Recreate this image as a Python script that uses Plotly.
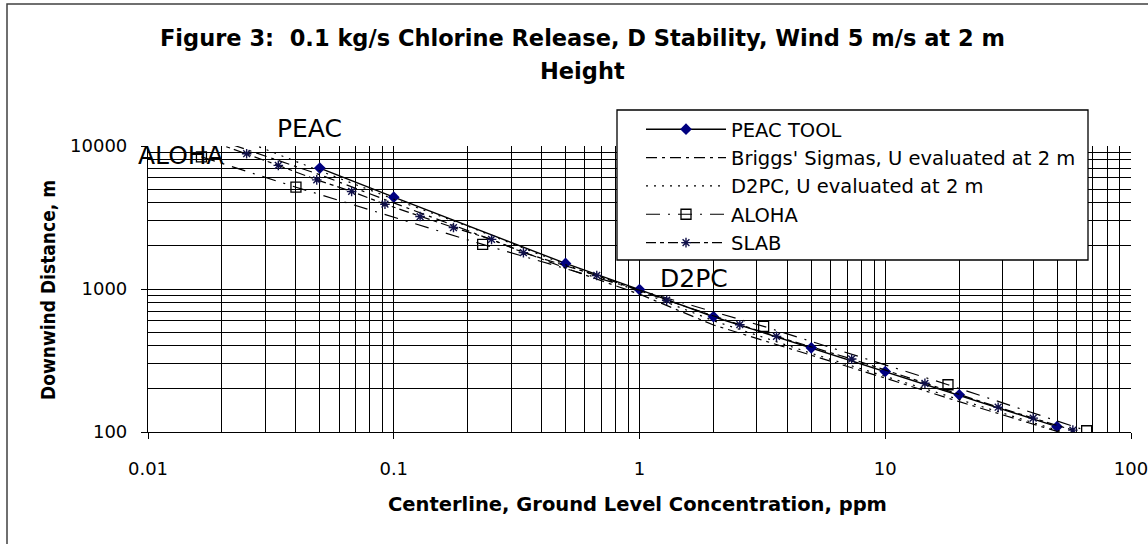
import plotly.graph_objects as go

# ---------------- data ----------------
peac_conc = [0.05, 0.1, 0.5, 1, 2, 5, 10, 20, 50]
peac_dist = [7010, 4390, 1510, 990, 640, 388, 265, 182, 109]

briggs_conc = [0.018, 0.05, 0.1, 0.2, 0.5, 1, 2, 5, 10, 20, 50, 80]
briggs_dist = [11500, 6300, 4000, 2560, 1400, 920, 560, 345, 238, 163, 100, 79]

d2pc_conc = [0.02, 0.05, 0.1, 0.2, 0.5, 1, 2, 5, 10, 20, 50, 70]
d2pc_dist = [12500, 6700, 4250, 2750, 1480, 960, 600, 355, 245, 168, 103, 86]

aloha_conc = [0.0165, 0.04, 0.23, 3.2, 18, 66]
aloha_dist = [8400, 5150, 2050, 548, 214, 102]

slab_conc = [0.0184, 0.0252, 0.0339, 0.0486, 0.0674, 0.0921, 0.128, 0.175,
             0.25, 0.337, 0.67, 1.29, 2.56, 3.61, 7.3, 14.5, 28.8, 40, 58]
slab_dist = [10670, 8830, 7320, 5800, 4810, 3918, 3211, 2689,
             2225, 1795, 1244, 835, 563, 466, 324, 219, 149, 125, 103]

x_tickvals = [0.01, 0.1, 1, 10, 100]
x_ticktext = ["0.01", "0.1", "1", "10", "100"]
y_tickvals = [100, 1000, 10000]
y_ticktext = ["100", "1000", "10000"]

title_line1 = "Figure 3:&nbsp; 0.1 kg/s Chlorine Release, D Stability, Wind 5 m/s at 2 m"
title_line2 = "Height"
x_title = "Centerline, Ground Level Concentration, ppm"
y_title = "Downwind Distance, m"

# series name labels drawn on the chart
label_texts = ["PEAC", "ALOHA", "D2PC"]

# ---------------- figure ----------------
W, H = 1148, 544
L, R, T, B = 148, 17, 146, 112
pw, ph = W - L - R, H - T - B


def px_x(px):
    return (px - L) / pw


def px_y(py):
    return (H - B - py) / ph


label_pos_px = [(309, 128), (181, 155), (694, 278)]

TXT = "DejaVu Sans"
BOLD = "DejaVu Sans"
BOLDC = "DejaVu Sans Condensed"

fig = go.Figure()
fig.add_trace(go.Scatter(
    x=peac_conc, y=peac_dist, name="PEAC TOOL", mode="lines+markers",
    line=dict(color="black", width=1.4),
    marker=dict(symbol="diamond", size=9, color="#000080", line=dict(width=0)),
    legendgroup="a"))
fig.add_trace(go.Scatter(
    x=briggs_conc, y=briggs_dist, name="Briggs' Sigmas, U evaluated at 2 m", mode="lines",
    line=dict(color="black", width=1.2, dash="11px,5px,3px,5px"),
    legendgroup="b"))
fig.add_trace(go.Scatter(
    x=d2pc_conc, y=d2pc_dist, name="D2PC, U evaluated at 2 m", mode="lines",
    line=dict(color="black", width=1.2, dash="2px,6px"),
    legendgroup="c"))
fig.add_trace(go.Scatter(
    x=aloha_conc, y=aloha_dist, name="ALOHA", mode="lines+markers",
    line=dict(color="black", width=1.2, dash="14px,8px,2px,8px"),
    marker=dict(symbol="square-open", size=10, color="black", line=dict(width=1.3)),
    legendgroup="d"))
fig.add_trace(go.Scatter(
    x=slab_conc, y=slab_dist, name="SLAB", mode="lines+markers",
    line=dict(color="black", width=1.2, dash="10px,4px,4px,4px"),
    marker=dict(symbol="asterisk-open", size=8, color="#10104a", line=dict(width=1.4, color="#10104a")),
    legendgroup="e"))

grid = dict(showgrid=True, gridcolor="black", gridwidth=1.2)
fig.update_xaxes(
    type="log", range=[-2, 2], tickvals=x_tickvals, ticktext=x_ticktext,
    ticks="outside", ticklen=6, tickcolor="black", tickwidth=1.2,
    ticklabelstandoff=14, automargin=False, ticklabeloverflow="allow",
    tickfont=dict(family=TXT, size=18, color="black"),
    showline=True, linecolor="black", linewidth=1.2,
    minor=dict(dtick="D1", showgrid=True, gridcolor="black", gridwidth=1.2, ticks=""),
    zeroline=False, **grid)
fig.update_yaxes(
    type="log", range=[2, 4], tickvals=y_tickvals, ticktext=y_ticktext,
    ticks="outside", ticklen=6, tickcolor="black", tickwidth=1.2,
    ticklabelstandoff=10, automargin=False, ticklabeloverflow="allow",
    tickfont=dict(family=TXT, size=18, color="black"),
    showline=True, linecolor="black", linewidth=1.2,
    minor=dict(dtick="D1", showgrid=True, gridcolor="black", gridwidth=1.2, ticks=""),
    zeroline=False, **grid)

ann = [
    dict(text=f"<b>{title_line1}</b>", x=px_x(582), y=px_y(38), xref="paper", yref="paper",
         showarrow=False, xanchor="center", yanchor="middle",
         font=dict(family=BOLD, size=22.5, color="black")),
    dict(text=f"<b>{title_line2}</b>", x=px_x(582), y=px_y(71), xref="paper", yref="paper",
         showarrow=False, xanchor="center", yanchor="middle",
         font=dict(family=BOLD, size=22.5, color="black")),
    dict(text=f"<b>{x_title}</b>", x=px_x(637), y=px_y(504), xref="paper", yref="paper",
         showarrow=False, xanchor="center", yanchor="middle",
         font=dict(family=BOLD, size=19.5, color="black")),
    dict(text=f"<b>{y_title}</b>", x=px_x(48), y=px_y(290), xref="paper", yref="paper",
         showarrow=False, xanchor="center", yanchor="middle", textangle=-90,
         font=dict(family=BOLDC, size=19, color="black")),
]
for txt, (lx, ly) in zip(label_texts, label_pos_px):
    ann.append(dict(text=txt, x=px_x(lx), y=px_y(ly), xref="paper", yref="paper",
                    showarrow=False, xanchor="center", yanchor="middle",
                    font=dict(family=TXT, size=25, color="black")))

fig.update_layout(
    width=W, height=H,
    margin=dict(l=L, r=R, t=T, b=B, pad=0, autoexpand=False),
    paper_bgcolor="white", plot_bgcolor="white",
    showlegend=True,
    legend=dict(x=px_x(641), y=px_y(110), xanchor="left", yanchor="top",
                bgcolor="rgba(0,0,0,0)", borderwidth=0,
                font=dict(family=TXT, size=19.5, color="black"),
                itemwidth=80, tracegroupgap=4, traceorder="normal"),
    annotations=ann,
    shapes=[
        dict(type="rect", xref="paper", yref="paper",
             x0=px_x(7), x1=px_x(1160), y0=px_y(560), y1=px_y(4),
             line=dict(color="#404040", width=1.5), fillcolor="rgba(0,0,0,0)", layer="below"),
        dict(type="rect", xref="paper", yref="paper",
             x0=px_x(617), x1=px_x(1088), y0=px_y(260), y1=px_y(110),
             line=dict(color="black", width=1.3), fillcolor="white", layer="above"),
    ],
)

fig.write_html(
    "out.html",
    config={"displayModeBar": False},
    post_script="document.body.style.margin='0px';document.body.style.overflow='hidden';",
)
